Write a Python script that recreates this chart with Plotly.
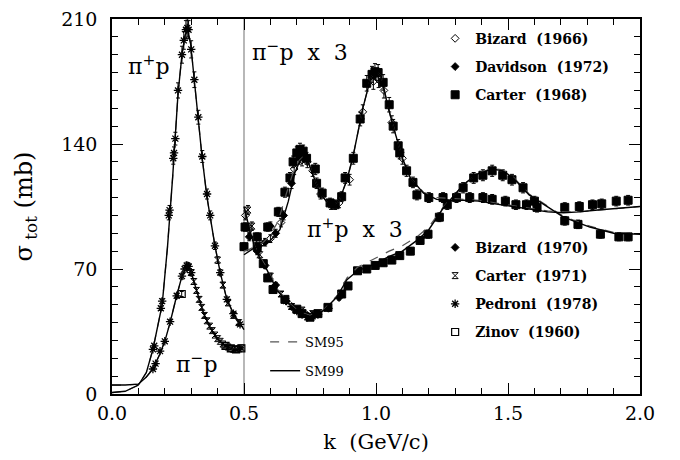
import plotly.graph_objects as go

# ---------------- model curves ----------------
# SM99 (solid)
sm99_pip_k = [0.0, 0.05, 0.1, 0.13, 0.155, 0.19, 0.21, 0.23, 0.25, 0.265, 0.277, 0.287, 0.298, 0.311, 0.326,
              0.341, 0.359, 0.371, 0.39, 0.41, 0.435, 0.46, 0.485, 0.5]
sm99_pip_s = [0.8, 1.5, 5.0, 12.0, 25.0, 50.0, 82.0, 122.0, 168.0, 190.0, 201.0, 204.0, 196.0, 177.0, 155.0,
              133.0, 111.0, 100.0, 83.0, 68.0, 53.0, 45.0, 39.0, 36.0]
sm99_pim_k = [0.0, 0.05, 0.1, 0.13, 0.155, 0.18, 0.2, 0.22, 0.245, 0.265, 0.28, 0.288, 0.3, 0.315, 0.33,
              0.345, 0.37, 0.397, 0.435, 0.46, 0.48, 0.5]
sm99_pim_s = [5.0, 5.0, 5.5, 9.5, 14.0, 22.0, 29.5, 40.0, 55.0, 66.0, 71.0, 72.0, 68.0, 61.0, 53.0,
              46.0, 37.5, 31.0, 26.5, 25.0, 25.0, 26.0]
sm99_pim3_k = [0.5, 0.52, 0.54, 0.57, 0.6, 0.636, 0.668, 0.693, 0.71, 0.725, 0.74, 0.76, 0.79, 0.82, 0.835,
               0.86, 0.89, 0.913, 0.95, 0.98, 1.0, 1.02, 1.045, 1.065, 1.1, 1.13, 1.18, 1.23, 1.28, 1.33,
               1.39, 1.45, 1.52, 1.6, 1.65, 1.71, 1.77, 1.84, 1.92, 2.0]
sm99_pim3_s = [78.0, 80.0, 82.0, 83.0, 86.0, 92.0, 108.0, 124.0, 130.0, 132.5, 131.0, 123.0, 112.0, 106.5, 105.5,
               108.0, 120.0, 133.0, 160.0, 177.0, 181.0, 178.0, 161.0, 150.0, 132.0, 121.0, 112.5, 109.0, 108.5, 108.5,
               108.0, 106.5, 105.0, 103.0, 102.0, 101.5, 102.0, 103.0, 104.0, 105.0]
sm99_pip3_k = [0.5, 0.523, 0.54, 0.56, 0.587, 0.625, 0.674, 0.71, 0.75, 0.8, 0.85, 0.89, 0.93, 0.99, 1.05,
               1.1, 1.155, 1.2, 1.254, 1.3, 1.33, 1.38, 1.44, 1.48, 1.52, 1.58, 1.66, 1.71, 1.81, 1.9, 2.0]
sm99_pip3_s = [105.0, 91.0, 82.5, 76.0, 69.5, 58.0, 50.0, 45.5, 43.5, 46.5, 54.0, 64.0, 69.0, 72.5, 77.0,
               80.0, 86.0, 92.0, 104.0, 112.0, 117.0, 123.0, 126.0, 125.0, 121.0, 111.5, 104.0, 99.0, 93.5, 90.0, 89.5]

# SM95 (dashed)
sm95_pip_k = sm99_pip_k
sm95_pip_s = sm99_pip_s
sm95_pim_k = sm99_pim_k
sm95_pim_s = sm99_pim_s
sm95_pim3_k = [0.5, 0.52, 0.54, 0.57, 0.6, 0.63, 0.66, 0.69, 0.71, 0.725, 0.74, 0.76, 0.79, 0.82, 0.835,
               0.86, 0.89, 0.913, 0.95, 0.98, 1.0, 1.02, 1.045, 1.065, 1.1, 1.13, 1.18, 1.23, 1.28, 1.33,
               1.39, 1.45, 1.52, 1.6, 1.65, 1.71, 1.77, 1.84, 1.92, 2.0]
sm95_pim3_s = [80.0, 81.0, 82.5, 84.5, 89.0, 97.0, 112.0, 126.0, 131.0, 133.0, 131.5, 123.0, 112.0, 106.5, 105.5,
               108.0, 120.0, 133.0, 160.0, 177.0, 181.0, 178.0, 161.0, 150.0, 132.0, 121.0, 113.0, 110.0, 109.5, 109.0,
               108.5, 107.0, 105.5, 103.5, 102.5, 102.0, 102.0, 103.0, 104.0, 105.0]
sm95_pip3_k = [0.5, 0.523, 0.54, 0.56, 0.587, 0.625, 0.674, 0.71, 0.75, 0.8, 0.85, 0.89, 0.93, 0.99, 1.05,
               1.1, 1.155, 1.2, 1.254, 1.3, 1.33, 1.38, 1.44, 1.48, 1.52, 1.58, 1.66, 1.71, 1.81, 1.9, 2.0]
sm95_pip3_s = [105.0, 91.5, 83.0, 77.0, 70.5, 59.0, 50.5, 46.0, 44.0, 47.0, 54.5, 65.0, 71.0, 75.5, 80.0,
               83.0, 88.0, 93.5, 104.5, 112.0, 117.0, 123.0, 126.5, 125.5, 121.5, 112.0, 104.5, 99.5, 94.0, 90.5, 90.0]

# ---------------- data points ----------------
pedroni_k = [0.155, 0.16, 0.185, 0.19, 0.215, 0.218, 0.232, 0.235, 0.24, 0.25, 0.265, 0.272, 0.28, 0.285, 0.29,
             0.3, 0.312, 0.327, 0.342, 0.36, 0.372, 0.39, 0.41, 0.435, 0.46, 0.485,
             0.155, 0.165, 0.182, 0.2, 0.22, 0.245, 0.265, 0.275, 0.283, 0.29, 0.3,
             0.66, 0.68, 0.7, 0.72, 0.74, 0.76]
pedroni_s = [25.0, 27.0, 48.0, 52.0, 100.0, 103.0, 132.0, 135.0, 143.0, 170.0, 190.0, 198.0, 204.0, 205.0, 204.0,
             193.0, 176.0, 155.0, 133.0, 112.0, 100.0, 83.0, 68.0, 53.0, 45.0, 39.0,
             14.0, 17.0, 24.0, 29.5, 40.5, 55.0, 66.0, 70.0, 72.0, 71.5, 68.0,
             52.0, 49.0, 46.5, 44.5, 43.0, 43.5]

carter71_k = [0.29, 0.3, 0.31, 0.32, 0.33, 0.34, 0.35, 0.36, 0.37, 0.38, 0.39, 0.4, 0.41, 0.42, 0.43, 0.44,
              0.45, 0.46, 0.47, 0.48, 0.49, 0.4, 0.42, 0.44, 0.46, 0.48,
              0.515, 0.53, 0.56, 0.6, 0.64, 0.68, 0.72, 0.76]
carter71_s = [71.0, 68.0, 63.0, 58.0, 53.0, 48.5, 44.0, 41.0, 38.0, 35.5, 33.0, 31.0, 29.5, 28.0, 27.0, 26.3,
              25.5, 25.0, 25.0, 25.3, 25.8, 75.0, 61.0, 51.0, 44.0, 40.0,
              103.0, 94.0, 78.0, 66.0, 56.0, 49.0, 47.0, 45.0]

zinov_k = [0.264, 0.43, 0.45, 0.47, 0.49]
zinov_s = [56.0, 27.0, 25.5, 25.0, 25.5]

bizard70_k = [0.52, 0.55, 0.58, 0.62, 0.66, 0.7, 0.74, 0.78, 0.82, 0.86]
bizard70_s = [88.0, 80.0, 72.0, 61.0, 52.0, 47.0, 44.0, 44.5, 48.0, 54.0]

bizard66_k = [0.505, 0.52, 0.56, 0.6, 0.64, 0.69, 0.72, 0.74, 0.76, 0.79, 0.83, 0.86, 0.9, 0.95, 0.99, 1.01,
              1.03, 1.06, 1.1]
bizard66_s = [100.0, 92.0, 85.0, 87.0, 96.0, 126.0, 131.0, 130.0, 125.0, 112.0, 106.0, 107.0, 120.0, 158.0,
              175.0, 176.0, 170.0, 152.0, 132.0]

davidson_k = [0.55, 0.58, 0.6, 0.62, 0.65, 0.68, 0.71, 0.73]
davidson_s = [82.0, 85.0, 94.0, 90.0, 100.0, 118.0, 132.0, 134.0]

carter68_k = [0.504, 0.55, 0.59, 0.63, 0.655, 0.674, 0.686, 0.7, 0.712, 0.724, 0.737, 0.77, 0.775, 0.796, 0.826,
              0.845, 0.87, 0.883, 0.914, 0.94, 0.965, 0.985, 0.996, 1.008, 1.027, 1.05, 1.065, 1.084, 1.09, 1.116,
              1.14, 1.155, 1.2, 1.254, 1.305, 1.355, 1.405, 1.44, 1.49, 1.53, 1.57, 1.61, 1.715, 1.77, 1.82,
              1.855, 1.91, 1.955,
              0.5, 0.55, 0.573, 0.59, 0.61, 0.655, 0.7, 0.72, 0.75, 0.78, 0.818, 0.87, 0.894, 0.93, 0.965,
              0.997, 1.027, 1.06, 1.09, 1.13, 1.167, 1.197, 1.24, 1.27, 1.33, 1.37, 1.405, 1.44, 1.48, 1.515,
              1.557, 1.6, 1.715, 1.765, 1.85, 1.92, 1.955]
carter68_s = [93.5, 88.0, 93.5, 102.0, 113.0, 121.0, 130.0, 135.0, 137.0, 136.0, 132.0, 126.0, 118.0, 112.5, 107.0,
              106.0, 110.5, 121.0, 132.0, 154.0, 174.0, 179.0, 180.5, 180.0, 174.5, 162.0, 150.0, 139.0, 135.0, 125.0,
              118.5, 111.5, 110.0, 110.0, 110.0, 110.0, 110.0, 109.0, 108.0, 106.0, 106.0, 104.5, 104.5, 105.0, 106.0,
              106.5, 108.0, 108.5,
              82.5, 82.5, 73.0, 65.0, 58.5, 53.0, 47.5, 45.0, 43.0, 45.0, 48.5, 56.0, 60.5, 69.0, 70.0,
              72.0, 73.5, 75.0, 77.5, 80.0, 86.0, 89.5, 99.0, 106.0, 115.5, 121.0, 122.5, 125.0, 122.5, 120.0,
              115.5, 108.0, 97.0, 95.0, 89.5, 88.0, 88.0]


def join(*segs):
    xs, ys = [], []
    for kx, sy in segs:
        xs += list(kx) + [None]
        ys += list(sy) + [None]
    return xs, ys


sm95_x, sm95_y = join((sm95_pip_k, sm95_pip_s), (sm95_pim_k, sm95_pim_s),
                      (sm95_pim3_k, sm95_pim3_s), (sm95_pip3_k, sm95_pip3_s))
sm99_x, sm99_y = join((sm99_pip_k, sm99_pip_s), (sm99_pim_k, sm99_pim_s),
                      (sm99_pim3_k, sm99_pim3_s), (sm99_pip3_k, sm99_pip3_s))

fig = go.Figure()

err = dict(type="percent", value=2.5, thickness=1, width=2, color="black")


def pts(name, kx, sy, symbol, size, legend, lw=1, fill="black"):
    fig.add_trace(go.Scatter(
        x=kx, y=sy, mode="markers", name=name, legend=legend, legendgroup=name,
        marker=dict(symbol=symbol, size=size, color=fill, line=dict(color="black", width=lw)),
        error_y=err))


pts("Bizard  (1966)", bizard66_k, bizard66_s, "diamond-open", 6, "legend", lw=1)
pts("Davidson  (1972)", davidson_k, davidson_s, "diamond", 6, "legend")
pts("Carter  (1968)", carter68_k, carter68_s, "square", 8, "legend")
pts("Bizard  (1970)", bizard70_k, bizard70_s, "diamond", 6, "legend2")
pts("Carter  (1971)", carter71_k, carter71_s, "hourglass-open", 6, "legend2")
pts("Pedroni  (1978)", pedroni_k, pedroni_s, "asterisk-open", 7, "legend2", lw=1.3)
pts("Zinov  (1960)", zinov_k, zinov_s, "square-open", 7, "legend2", lw=1.2)

fig.add_trace(go.Scatter(x=sm95_x, y=sm95_y, mode="lines", name="SM95", legend="legend3", legendgroup="sm95",
                         line=dict(color="#555555", width=1.2, dash="dash")))
fig.add_trace(go.Scatter(x=sm99_x, y=sm99_y, mode="lines", name="SM99", legend="legend3", legendgroup="sm99",
                         line=dict(color="black", width=1.4)))

serif = "DejaVu Serif"

fig.add_shape(type="line", x0=0.5, x1=0.5, y0=0, y1=1, xref="x", yref="paper",
              line=dict(color="#888888", width=1.2), layer="below")

ann_font = dict(family=serif, size=22, color="black")
fig.add_annotation(x=0.14, y=184.5, text="π<sup>+</sup>p", showarrow=False, font=ann_font)
fig.add_annotation(x=0.712, y=192, text="π<sup>−</sup>p  x  3", showarrow=False, font=ann_font)
fig.add_annotation(x=0.92, y=93, text="π<sup>+</sup>p  x  3", showarrow=False, font=ann_font)
fig.add_annotation(x=0.32, y=17.6, text="π<sup>−</sup>p", showarrow=False, font=ann_font)

leg_font = dict(family=serif, size=14, color="black", weight="bold")
fig.update_layout(
    width=672, height=452,
    margin=dict(l=104, r=40, t=11, b=66),
    paper_bgcolor="white", plot_bgcolor="white",
    font=dict(family=serif, color="black"),
    xaxis=dict(range=[0, 2.0], dtick=0.5, tick0=0, tickformat=".1f", automargin=False,
               ticks="inside", ticklen=11, tickwidth=1.3, tickcolor="black",
               showline=True, linecolor="black", linewidth=1.5, mirror="allticks",
               showgrid=False, zeroline=False, ticklabeloverflow="allow",
               minor=dict(dtick=0.1, ticks="inside", ticklen=6, tickwidth=1.1, tickcolor="black", showgrid=False),
               tickfont=dict(family=serif, size=19),
               title=dict(text="k  (GeV/c)", font=dict(family=serif, size=21), standoff=12),
               ticklabelstandoff=1),
    yaxis=dict(range=[0, 210], dtick=70, tick0=0, automargin=False,
               ticks="inside", ticklen=11, tickwidth=1.3, tickcolor="black",
               showline=True, linecolor="black", linewidth=1.5, mirror="allticks",
               showgrid=False, zeroline=False, ticklabeloverflow="allow",
               minor=dict(dtick=10, ticks="inside", ticklen=6, tickwidth=1.1, tickcolor="black", showgrid=False),
               tickfont=dict(family=serif, size=19),
               title=dict(text="σ<sub> tot</sub> (mb)", font=dict(family=serif, size=24), standoff=22),
               ticklabelstandoff=9),
    legend=dict(x=0.612, y=0.99, xanchor="left", yanchor="top", bgcolor="rgba(0,0,0,0)",
                font=leg_font, tracegroupgap=7, itemwidth=30),
    legend2=dict(x=0.612, y=0.4325, xanchor="left", yanchor="top", bgcolor="rgba(0,0,0,0)",
                 font=leg_font, tracegroupgap=7, itemwidth=30),
    legend3=dict(x=0.29, y=0.179, xanchor="left", yanchor="top", bgcolor="rgba(0,0,0,0)",
                 font=dict(family=serif, size=13, color="black"), tracegroupgap=9, itemwidth=30),
)

fig.write_html("out.html")
